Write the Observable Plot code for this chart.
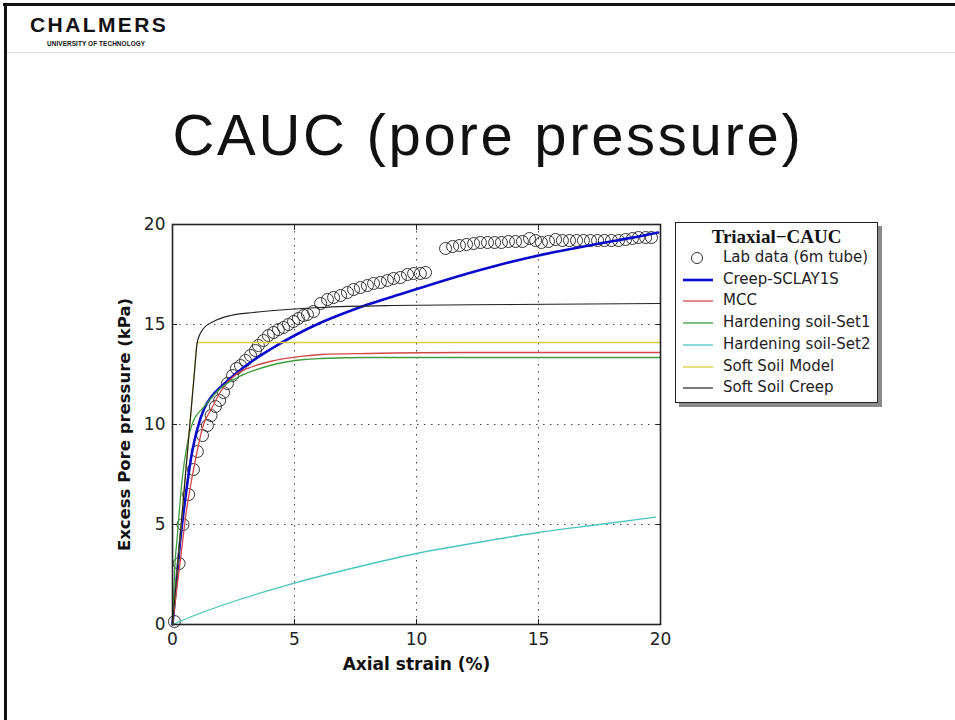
<!DOCTYPE html>
<html>
<head>
<meta charset="utf-8">
<script src="https://cdn.jsdelivr.net/npm/d3@7"></script>
<script src="https://cdn.jsdelivr.net/npm/@observablehq/plot@0.6"></script>
<style>
  html, body { margin: 0; padding: 0; background: #fff; }
  #page { position: relative; width: 955px; height: 720px; overflow: hidden; background: #fff; font-family: "DejaVu Sans", sans-serif; }
  .abs { position: absolute; }
  #topbar { left: 3px; top: 3px; width: 952px; height: 3px; background: #111; }
  #leftbar { left: 4px; top: 3px; width: 3px; height: 717px; background: #111; }
  #sep { left: 7px; top: 52px; width: 948px; height: 1px; background: #e2e2e2; }
  #brand { left: 30px; top: 14px; font-family: "Liberation Sans", Arial, sans-serif; font-weight: 900; font-size: 21px; line-height: 21px; letter-spacing: 2.4px; color: #111; }
  #sub { left: 47px; top: 40px; font-family: "Liberation Sans", Arial, sans-serif; font-weight: bold; font-size: 6.4px; line-height: 7px; color: #111; letter-spacing: 0.1px; }
  #title { left: 488px; top: 106px; transform: translateX(-50%); font-family: "Liberation Sans", Arial, sans-serif; font-size: 58px; line-height: 58px; white-space: nowrap; color: #111; letter-spacing: 2.7px; }
  #chart { left: 0px; top: 190px; }
  #legend { left: 675px; top: 222px; width: 203px; height: 181px; border: 1.5px solid #222; background: #fff; box-shadow: 4px 4px 0 #8a8a8a; box-sizing: border-box; }
  .lgtitle { position: absolute; left: 0; width: 100%; text-align: center; top: 3px; font-family: "Liberation Serif", "DejaVu Serif", serif; font-weight: bold; font-size: 19px; color: #111; }
  .lgrow { position: absolute; left: 0; height: 20px; width: 100%; }
  .lgtext { position: absolute; left: 47px; top: 0px; font-size: 15px; color: #222; white-space: nowrap; }
  .lgsym { position: absolute; left: 6px; top: 0px; }
</style>
</head>
<body>
<div id="page">
  <div class="abs" id="topbar"></div>
  <div class="abs" id="leftbar"></div>
  <div class="abs" id="sep"></div>
  <div class="abs" id="brand">CHALMERS</div>
  <div class="abs" id="sub">UNIVERSITY OF TECHNOLOGY</div>
  <div class="abs" id="title">CAUC (pore pressure)</div>
  <div class="abs" id="chart"></div>
  <div class="abs" id="legend"></div>
</div>
<script>
// ---------- Data ----------
const xTicks = [0, 5, 10, 15, 20];
const yTicks = [0, 5, 10, 15, 20];
const xLabel = "Axial strain (%)";
const yLabel = "Excess Pore pressure (kPa)";
const legendTitle = "Triaxial\u2212CAUC";

const labName = "Lab data (6m tube)";
const labX = [0.08, 0.27, 0.43, 0.66, 0.86, 1.02, 1.23, 1.43, 1.58, 1.76, 1.93, 2.09, 2.25, 2.46, 2.62, 2.79, 2.99, 3.2, 3.4, 3.52, 3.73, 3.93, 4.14, 4.34, 4.55, 4.75, 4.96, 5.16, 5.37, 5.53, 5.78, 6.07, 6.35, 6.6, 6.89, 7.17, 7.42, 7.7, 7.99, 8.24, 8.52, 8.81, 9.06, 9.34, 9.63, 9.88, 10.16, 10.37,
  11.19, 11.48, 11.76, 12.05, 12.34, 12.62, 12.91, 13.2, 13.48, 13.77, 14.06, 14.34, 14.63, 14.88, 15.12, 15.41, 15.7, 15.98, 16.27, 16.56, 16.84, 17.13, 17.42, 17.7, 17.99, 18.28, 18.57, 18.85, 19.1, 19.39, 19.63];
const labY = [0.15, 3.05, 5.0, 6.5, 7.75, 8.65, 9.45, 9.95, 10.45, 10.9, 11.2, 11.6, 12.05, 12.45, 12.8, 12.95, 13.2, 13.45, 13.7, 13.95, 14.2, 14.45, 14.6, 14.75, 14.85, 15.0, 15.15, 15.3, 15.45, 15.5, 15.65, 16.05, 16.25, 16.35, 16.45, 16.6, 16.75, 16.85, 16.95, 17.05, 17.1, 17.2, 17.3, 17.35, 17.5, 17.55, 17.55, 17.6,
  18.8, 18.9, 18.95, 19.0, 19.05, 19.1, 19.1, 19.1, 19.1, 19.15, 19.15, 19.15, 19.3, 19.2, 19.1, 19.15, 19.25, 19.2, 19.2, 19.2, 19.2, 19.2, 19.2, 19.2, 19.2, 19.2, 19.25, 19.3, 19.35, 19.35, 19.35];

const seriesNames  = ["Creep-SCLAY1S", "MCC", "Hardening soil-Set1", "Hardening soil-Set2", "Soft Soil Model", "Soft Soil Creep"];
const seriesColors = ["#0a0acc", "#d24848", "#3e9c3e", "#4cc4c0", "#d6cc3c", "#222222"];
const seriesWidths = [2.6, 1.3, 1.3, 1.3, 1.3, 1.2];

const creepX = [0, 0.15, 0.3, 0.45, 0.6, 0.8, 1.0, 1.3, 1.6, 2.0, 2.6, 3.3, 4.0, 5.0, 6.0, 7.0, 8.0, 9.3, 11.0, 12.1, 13.3, 15.0, 16.0, 17.5, 18.8, 19.9];
const creepY = [0, 2.0, 4.0, 5.6, 7.0, 8.6, 9.7, 10.8, 11.4, 11.9, 12.55, 13.2, 13.75, 14.45, 15.05, 15.55, 16.0, 16.5, 17.15, 17.55, 17.95, 18.45, 18.7, 19.05, 19.33, 19.6];

const mccX = [0, 0.2, 0.4, 0.55, 0.75, 1.0, 1.27, 1.56, 2.0, 2.65, 3.3, 4.0, 5.4, 6.1, 8.0, 12.0, 20.0];
const mccY = [0, 2.0, 4.0, 5.5, 7.0, 8.6, 10.0, 10.7, 11.7, 12.55, 12.9, 13.15, 13.42, 13.5, 13.55, 13.6, 13.6];

const hs1X = [0, 0.05, 0.1, 0.19, 0.3, 0.4, 0.6, 0.86, 1.27, 2.0, 2.66, 4.0, 5.4, 6.1, 8.0, 20.0];
const hs1Y = [0, 1.5, 3.0, 4.3, 6.0, 7.3, 9.0, 10.2, 10.85, 11.85, 12.35, 12.95, 13.25, 13.3, 13.35, 13.35];

const hs2X = [0, 1.0, 2.5, 5.0, 7.5, 10.0, 12.5, 15.0, 17.5, 19.8];
const hs2Y = [0, 0.5, 1.15, 2.07, 2.85, 3.55, 4.1, 4.6, 5.0, 5.37];

const ssmX = [0, 1.0, 20.0];
const ssmY = [0, 14.1, 14.1];

const sscX = [0, 0.3, 0.5, 0.7, 0.9, 1.0, 1.1, 1.27, 1.68, 2.38, 3.32, 4.7, 6.0, 9.0, 14.0, 20.0];
const sscY = [0, 4.2, 7.05, 9.85, 12.6, 14.0, 14.45, 14.8, 15.15, 15.45, 15.6, 15.75, 15.85, 15.95, 16.0, 16.05];

// ---------- Build tables ----------
const seriesX = [creepX, mccX, hs1X, hs2X, ssmX, sscX];
const seriesY = [creepY, mccY, hs1Y, hs2Y, ssmY, sscY];
const labData = labX.map((x, i) => ({x, y: labY[i]}));

const lineMarks = seriesNames.map((name, k) => {
  const rows = seriesX[k].map((x, i) => ({x, y: seriesY[k][i]}));
  return Plot.line(rows, {
    x: "x", y: "y",
    stroke: seriesColors[k],
    strokeWidth: seriesWidths[k],
    curve: name === "Soft Soil Model" ? "linear" : "monotone-x"
  });
});

const chart = Plot.plot({
  width: 700,
  height: 500,
  marginLeft: 172,
  marginRight: 40,
  marginTop: 34,
  marginBottom: 66,
  style: { fontFamily: "DejaVu Sans, sans-serif", background: "transparent", color: "#222", overflow: "visible" },
  x: { domain: [0, 20] },
  y: { domain: [0, 20] },
  marks: [
    Plot.gridX(xTicks, { stroke: "#333", strokeOpacity: 0.9, strokeDasharray: "1.5,5.5", strokeWidth: 1 }),
    Plot.gridY(yTicks, { stroke: "#333", strokeOpacity: 0.9, strokeDasharray: "1.5,5.5", strokeWidth: 1 }),
    Plot.dot(labData, { x: "x", y: "y", r: 6, stroke: "#333", strokeWidth: 1, fill: "none" }),
    ...lineMarks,
    Plot.frame({ stroke: "#222", strokeWidth: 1.6 }),
    Plot.axisX(xTicks, { anchor: "bottom", tickSize: -5, tickPadding: 13, fontSize: 17, label: null, stroke: "#222" }),
    Plot.axisX(xTicks, { anchor: "top", tickSize: -5, tickFormat: () => "", label: null, stroke: "#222" }),
    Plot.axisY(yTicks, { anchor: "left", tickSize: -5, tickPadding: 12, fontSize: 17, label: null, stroke: "#222" }),
    Plot.axisY(yTicks, { anchor: "right", tickSize: -5, tickFormat: () => "", label: null, stroke: "#222" }),
    Plot.text([xLabel], { frameAnchor: "bottom", dy: 45, fontSize: 17, fontWeight: "bold", fill: "#111", textAnchor: "middle" }),
    Plot.text([yLabel], { frameAnchor: "left", dx: -48, rotate: -90, fontSize: 16.5, fontWeight: "bold", fill: "#111", textAnchor: "middle" })
  ]
});
document.getElementById("chart").appendChild(chart);

// ---------- Legend ----------
const legend = document.getElementById("legend");
const t = document.createElement("div");
t.className = "lgtitle";
t.textContent = legendTitle;
legend.appendChild(t);
const rowTop0 = 25;
const rowStep = 21.7;
const labels = [labName, ...seriesNames];
labels.forEach((name, i) => {
  const row = document.createElement("div");
  row.className = "lgrow";
  row.style.top = (rowTop0 + i * rowStep) + "px";
  let sym;
  if (i === 0) {
    sym = `<svg class="lgsym" width="34" height="20"><circle cx="15" cy="10" r="5.5" fill="none" stroke="#333" stroke-width="1"/></svg>`;
  } else {
    const c = seriesColors[i - 1], w = seriesWidths[i - 1];
    sym = `<svg class="lgsym" width="34" height="20"><line x1="1" x2="31" y1="10" y2="10" stroke="${c}" stroke-width="${w}"/></svg>`;
  }
  row.innerHTML = sym + `<span class="lgtext">${name}</span>`;
  legend.appendChild(row);
});
</script>
</body>
</html>
